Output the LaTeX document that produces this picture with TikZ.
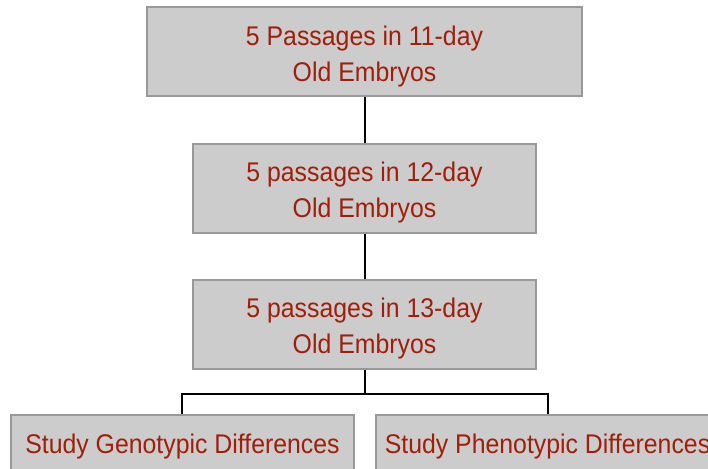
\documentclass[tikz,border=0pt]{standalone}
\usepackage{fontspec}
\setmainfont{Liberation Sans}[FakeStretch = 0.92]
\usetikzlibrary{positioning}

\definecolor{boxgray}{HTML}{CCCCCC}
\definecolor{rimgray}{HTML}{999999}
\definecolor{textred}{HTML}{A01E0A}

\newcommand{\lifttext}{\rule{0pt}{28.5pt}}

\tikzset{
  stagebox/.style = {draw = rimgray, line width = 2pt, fill = boxgray,
    text = textred, align = center, inner sep = 0pt,
    minimum width = 343pt, minimum height = 89pt,
    font = \fontsize{27}{36}\selectfont},
  studybox/.style = {stagebox, minimum height = 56pt,
    execute at begin node = {\rule{0pt}{26pt}}},
  link/.style = {draw = black, line width = 2pt}
}

\begin{document}
\begin{tikzpicture} [node distance = 136pt, on grid, x = 1pt, y = 1pt]
\useasboundingbox (-364.5,52) rectangle (343.5,-416);
\clip (-364.5,52) rectangle (343.5,-416);

\node (p11) [stagebox, minimum width = 435pt] {\lifttext 5 Passages in 11-day\\Old Embryos};
\node (p12) [stagebox, below = of p11] {\lifttext 5 passages in 12-day\\Old Embryos};
\node (p13) [stagebox, below = of p12] {\lifttext 5 passages in 13-day\\Old Embryos};
\node (geno) [studybox, below left = 119pt and 182pt of p13] {Study Genotypic Differences};
\node (pheno) [studybox, below right = 119pt and 183pt of p13] {Study Phenotypic Differences};

\coordinate (split) at ([yshift = -24pt] p13.south);

\path [link]
    (p11) -- (p12);
\path [link]
    (p12) -- (p13);
\path [link]
    (p13) -- (split) -| (geno);
\path [link]
    (split) -| (pheno);
\end{tikzpicture}
\end{document}
